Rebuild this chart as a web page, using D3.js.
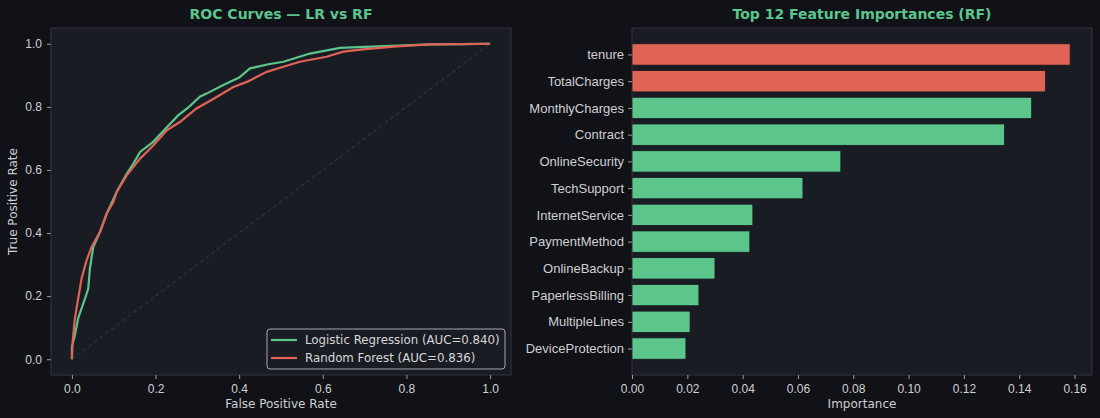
<!DOCTYPE html>
<html>
<head>
  <script src="https://d3js.org/d3.v7.min.js"></script>
  <style>
    body { margin: 0; background-color: #111118; }
    svg { display: block; font-family: "DejaVu Sans", sans-serif; }
    .tick text { fill: #d0d0d0; font-size: 12px; }
    .tick line { stroke: #9a9aa0; }
    .domain { display: none; }
    .feat .tick text { font-size: 13px; }
  </style>
</head>
<body>
  <svg id="chart" width="1100" height="418"></svg>
  <script>
    // ROC data
    const lrFpr = [0, 0, 0.007, 0.015, 0.031, 0.039, 0.043, 0.051, 0.067, 0.083, 0.107, 0.13, 0.147, 0.163, 0.195, 0.227, 0.254, 0.28, 0.306, 0.322, 0.362, 0.4, 0.426, 0.47, 0.506, 0.569, 0.641, 0.7, 0.78, 0.86, 0.93, 1];
    const lrTpr = [0, 0.04, 0.076, 0.13, 0.191, 0.223, 0.287, 0.356, 0.403, 0.461, 0.53, 0.585, 0.62, 0.657, 0.69, 0.735, 0.773, 0.8, 0.832, 0.842, 0.869, 0.893, 0.922, 0.935, 0.943, 0.969, 0.987, 0.99, 0.994, 0.998, 0.999, 1];
    const rfFpr = [0, 0.002, 0.007, 0.016, 0.023, 0.035, 0.047, 0.067, 0.083, 0.099, 0.107, 0.131, 0.163, 0.195, 0.227, 0.258, 0.298, 0.338, 0.386, 0.42, 0.466, 0.5, 0.545, 0.609, 0.649, 0.696, 0.777, 0.856, 0.93, 1];
    const rfTpr = [0, 0.06, 0.128, 0.2, 0.255, 0.313, 0.356, 0.403, 0.461, 0.498, 0.53, 0.583, 0.636, 0.678, 0.726, 0.752, 0.795, 0.825, 0.863, 0.88, 0.911, 0.925, 0.943, 0.959, 0.975, 0.982, 0.992, 0.998, 0.999, 1];
    const rocLabels = ['Logistic Regression (AUC=0.840)', 'Random Forest (AUC=0.836)'];
    const rocTicks = [0, 0.2, 0.4, 0.6, 0.8, 1.0];

    // feature importances
    const features = ['tenure', 'TotalCharges', 'MonthlyCharges', 'Contract', 'OnlineSecurity', 'TechSupport', 'InternetService', 'PaymentMethod', 'OnlineBackup', 'PaperlessBilling', 'MultipleLines', 'DeviceProtection'];
    const importances = [0.1584, 0.1495, 0.1445, 0.1347, 0.0755, 0.0618, 0.0437, 0.0426, 0.030, 0.0242, 0.021, 0.0195];
    const impTicks = [0, 0.02, 0.04, 0.06, 0.08, 0.10, 0.12, 0.14, 0.16];

    const green = '#5cc58c', red = '#e06455', face = '#1a1c24', spine = '#32353f';
    const svg = d3.select('#chart');

    // ---------- left: ROC ----------
    const L = { left: 51, right: 511, top: 28, bottom: 375 };
    const x = d3.scaleLinear().domain([-0.05, 1.05]).range([L.left, L.right]);
    const y = d3.scaleLinear().domain([-0.05, 1.05]).range([L.bottom, L.top]);

    svg.append('rect')
      .attr('x', L.left).attr('y', L.top)
      .attr('width', L.right - L.left).attr('height', L.bottom - L.top)
      .attr('fill', face).attr('stroke', spine);

    svg.append('g')
      .attr('transform', `translate(0, ${L.bottom})`)
      .call(d3.axisBottom(x).tickValues(rocTicks).tickFormat(d3.format('.1f')).tickSize(4).tickPadding(5));
    svg.append('g')
      .attr('transform', `translate(${L.left}, 0)`)
      .call(d3.axisLeft(y).tickValues(rocTicks).tickFormat(d3.format('.1f')).tickSize(4).tickPadding(5));

    // chance line
    svg.append('line')
      .attr('x1', x(0)).attr('y1', y(0)).attr('x2', x(1)).attr('y2', y(1))
      .attr('stroke', '#383b45').attr('stroke-width', 1).attr('stroke-dasharray', '4,3');

    const line = d3.line().x(d => x(d[0])).y(d => y(d[1]));
    const lrData = lrFpr.map((f, i) => [f, lrTpr[i]]);
    const rfData = rfFpr.map((f, i) => [f, rfTpr[i]]);

    svg.append('path').datum(lrData)
      .attr('d', line).attr('fill', 'none').attr('stroke', green).attr('stroke-width', 2.2);
    svg.append('path').datum(rfData)
      .attr('d', line).attr('fill', 'none').attr('stroke', red).attr('stroke-width', 2.2);

    svg.append('text')
      .attr('x', (L.left + L.right) / 2).attr('y', 19)
      .attr('text-anchor', 'middle').attr('fill', green)
      .style('font-size', '14px').style('font-weight', 'bold')
      .text('ROC Curves — LR vs RF');
    svg.append('text')
      .attr('x', (L.left + L.right) / 2).attr('y', 408)
      .attr('text-anchor', 'middle').attr('fill', '#d0d0d0').style('font-size', '12px')
      .text('False Positive Rate');
    svg.append('text')
      .attr('transform', `translate(17, ${(L.top + L.bottom) / 2}) rotate(-90)`)
      .attr('text-anchor', 'middle').attr('fill', '#d0d0d0').style('font-size', '12px')
      .text('True Positive Rate');

    // legend
    const lg = svg.append('g').attr('transform', 'translate(267, 329)');
    lg.append('rect')
      .attr('width', 238).attr('height', 40).attr('rx', 3)
      .attr('fill', face).attr('stroke', '#a8a8ae').attr('stroke-width', 1);
    [green, red].forEach((c, i) => {
      lg.append('line')
        .attr('x1', 4).attr('x2', 30).attr('y1', 11 + i * 18).attr('y2', 11 + i * 18)
        .attr('stroke', c).attr('stroke-width', 2.2);
      lg.append('text')
        .attr('x', 38).attr('y', 15 + i * 18)
        .attr('fill', '#d8d8d8').style('font-size', '11.8px')
        .text(rocLabels[i]);
    });

    // ---------- right: feature importances ----------
    const R = { left: 632, right: 1092, top: 28, bottom: 375 };
    const xb = d3.scaleLinear().domain([0, 0.1663]).range([R.left, R.right]);
    const yb = d3.scaleLinear().domain([-0.99, 11.99]).range([R.top, R.bottom]);

    svg.append('rect')
      .attr('x', R.left).attr('y', R.top)
      .attr('width', R.right - R.left).attr('height', R.bottom - R.top)
      .attr('fill', face).attr('stroke', spine);

    svg.selectAll('.bar')
      .data(features)
      .enter()
      .append('rect')
      .attr('class', 'bar')
      .attr('x', xb(0))
      .attr('y', (d, i) => yb(i - 0.4))
      .attr('width', (d, i) => xb(importances[i]) - xb(0))
      .attr('height', yb(0.8) - yb(0))
      .attr('fill', (d, i) => i < 2 ? red : green)
      .attr('stroke', '#15161c').attr('stroke-width', 0.8);

    svg.append('g')
      .attr('transform', `translate(0, ${R.bottom})`)
      .call(d3.axisBottom(xb).tickValues(impTicks).tickFormat(d3.format('.2f')).tickSize(4).tickPadding(5));
    svg.append('g')
      .attr('class', 'feat')
      .attr('transform', `translate(${R.left}, 0)`)
      .call(d3.axisLeft(yb).tickValues(d3.range(features.length)).tickFormat(i => features[i]).tickSize(4).tickPadding(4));

    svg.append('text')
      .attr('x', (R.left + R.right) / 2).attr('y', 19)
      .attr('text-anchor', 'middle').attr('fill', green)
      .style('font-size', '14px').style('font-weight', 'bold')
      .text('Top 12 Feature Importances (RF)');
    svg.append('text')
      .attr('x', (R.left + R.right) / 2).attr('y', 408)
      .attr('text-anchor', 'middle').attr('fill', '#d0d0d0').style('font-size', '12px')
      .text('Importance');
  </script>
</body>
</html>
